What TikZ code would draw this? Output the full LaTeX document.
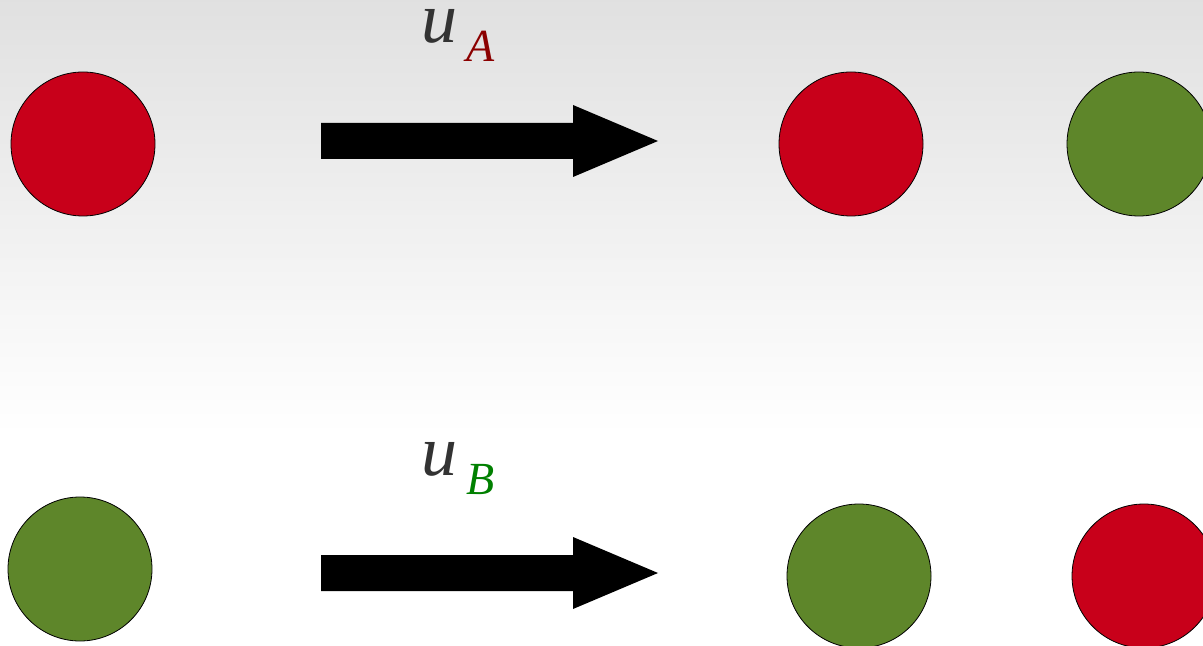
\documentclass[tikz,border=0pt]{standalone}
\usepackage{fontspec}
\setmainfont{Liberation Serif}
\usepackage{tikz}
\definecolor{ballred}{HTML}{C8001A}
\definecolor{ballgreen}{HTML}{5E862A}
\definecolor{labgray}{HTML}{333333}
\definecolor{subred}{HTML}{8B0000}
\definecolor{subgreen}{HTML}{008000}
\begin{document}
\begin{tikzpicture}[x=0.5pt,y=-0.5pt]
\tikzstyle{every node}=[inner sep=0pt, outer sep=0pt]
\tikzstyle{ball}=[circle, draw=black, line width=0.4pt, minimum size=72pt]
\tikzstyle{ulab}=[anchor=base west, text=labgray, text height=16pt, text depth=0pt, font=\fontsize{36}{36}\selectfont\itshape]
\tikzstyle{sublab}=[anchor=base west, text height=16pt, text depth=0pt, font=\fontsize{23}{23}\selectfont\itshape]
\clip (0,0) rectangle (1203,646);
\fill[white] (0,0) rectangle (1203,646);
\shade[top color=black!12, bottom color=white] (0,0) rectangle (1203,435);
% top row
\draw (83,144) node (a1) [ball,fill=ballred] {};
\draw (851,144) node (a2) [ball,fill=ballred] {};
\draw (1139,144) node (a3) [ball,fill=ballgreen] {};
\fill (321,123) -- (573,123) -- (573,105) -- (658,141) -- (573,177) -- (573,159) -- (321,159) -- cycle;
\draw (421,43) node (ua) [ulab] {u};
\draw (466,62) node (sa) [sublab,text=subred] {A};
% bottom row
\draw (80,569) node (b1) [ball,fill=ballgreen] {};
\draw (859,576) node (b2) [ball,fill=ballgreen] {};
\draw (1144,576) node (b3) [ball,fill=ballred] {};
\fill (321,555) -- (573,555) -- (573,537) -- (658,573) -- (573,609) -- (573,591) -- (321,591) -- cycle;
\draw (421,475) node (ub) [ulab] {u};
\draw (466,494) node (sb) [sublab,text=subgreen] {B};
\end{tikzpicture}
\end{document}
